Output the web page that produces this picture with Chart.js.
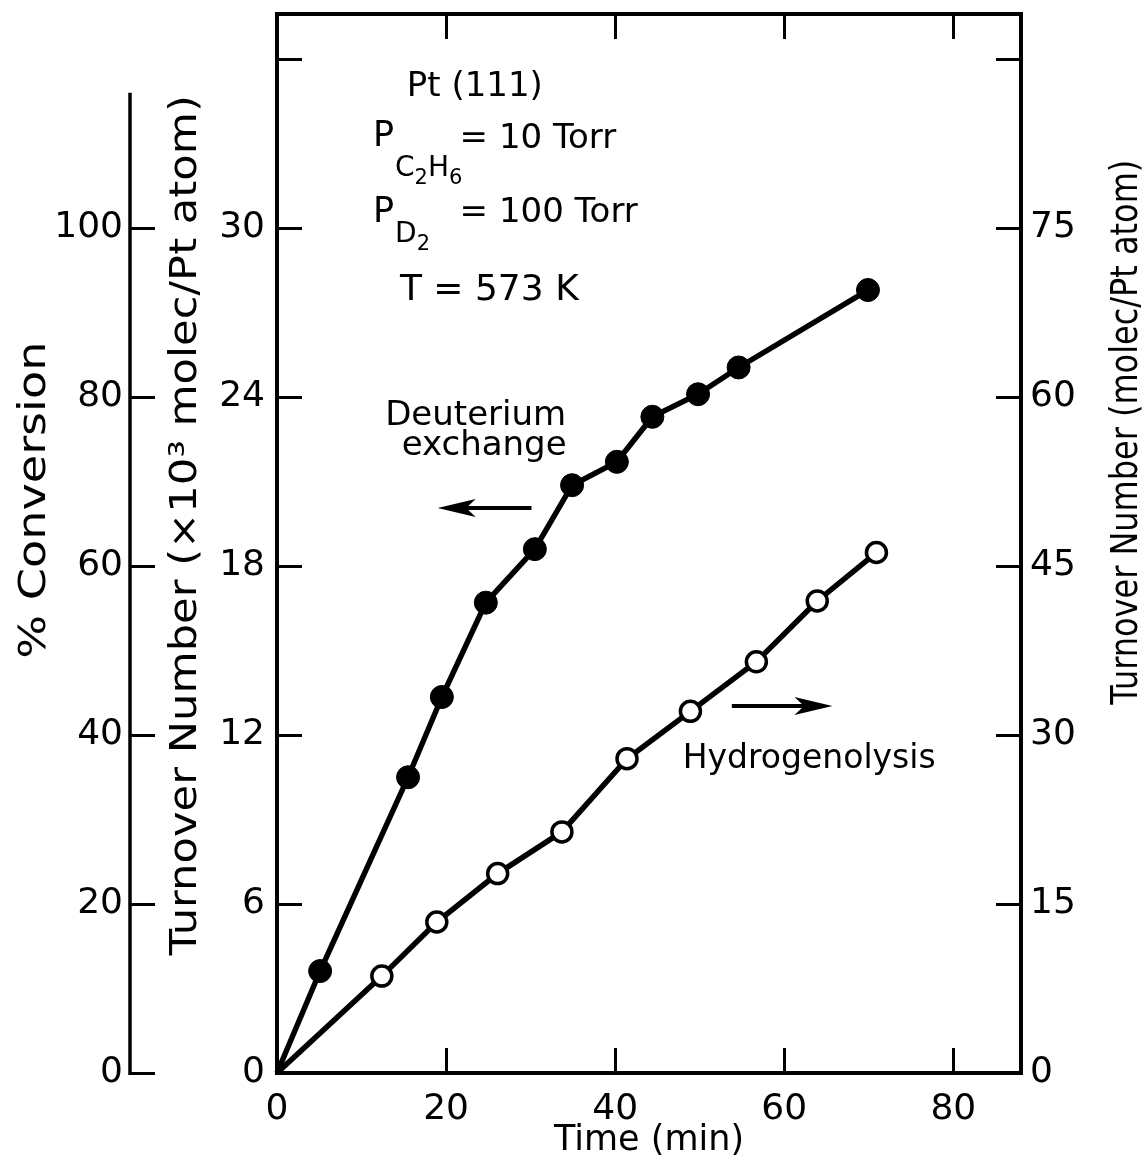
<!DOCTYPE html>
<html>
<head>
<meta charset="utf-8">
<script src="https://cdn.jsdelivr.net/npm/chart.js@4.4.1/dist/chart.umd.min.js"></script>
<style>
    html, body { margin: 0; padding: 0; background: #fff; }
    #wrap { width: 1148px; height: 1168px; position: relative; }
</style>
</head>
<body>
<div id="wrap"><canvas id="chart-turnover"></canvas></div>
<script>
// ======================================================
// Pt(111) - deuterium exchange / hydrogenolysis of ethane
// ======================================================

// filled circles, left axis (x10^3 molec/Pt atom); first point is the origin, no marker
const timeExchange     = [0, 5.1, 15.5, 19.5, 24.7, 30.5, 34.9, 40.2, 44.4, 49.8, 54.6, 69.9];
const turnoverExchange = [0, 3.62, 10.5, 13.35, 16.7, 18.6, 20.87, 21.7, 23.3, 24.1, 25.05, 27.8];

// open circles, right axis (molec/Pt atom)
const timeHydro     = [0, 12.4, 18.9, 26.1, 33.7, 41.4, 48.9, 56.7, 63.9, 70.9];
const turnoverHydro = [0, 8.6, 13.4, 17.7, 21.4, 27.9, 32.1, 36.5, 41.9, 46.2];

// ticks
const timeTicks        = [0, 20, 40, 60, 80];
const turnoverTicks    = [0, 6, 12, 18, 24, 30, 36];
const turnoverLabels   = ['0', '6', '12', '18', '24', '30', ''];
const conversionTicks  = [0, 20, 40, 60, 80, 100];
const rightTicks       = [0, 15, 30, 45, 60, 75, 90];
const rightLabels      = ['0', '15', '30', '45', '60', '75', ''];

const FONT = "'DejaVu Sans', sans-serif";
Chart.defaults.font.family = FONT;
Chart.defaults.color = '#000';

const toPoints = (xs, ys) => xs.map((x, i) => ({ x: x, y: ys[i] }));
const fixTicks = list => scale => { scale.ticks = list.map(v => ({ value: v })); };
const noPad = scale => {
    scale.paddingTop = scale.paddingBottom = 0;
    scale.paddingLeft = scale.paddingRight = 0;
};
const fixWidth = w => scale => { scale.width = w; noPad(scale); };
const fixHeight = h => scale => { scale.height = h; noPad(scale); };

// text + arrows on the plot, positions in (min, left-axis units)
const figureNotes = {
    id: 'figureNotes',
    afterDraw(chart) {
        const { ctx, scales } = chart;
        const X = v => scales.x.getPixelForValue(v);
        const Y = v => scales.y.getPixelForValue(v);

        const text = (str, x, y, size, align) => {
            ctx.font = size + 'px ' + FONT;
            ctx.textAlign = align || 'left';
            ctx.textBaseline = 'alphabetic';
            ctx.fillText(str, x, y);
            return ctx.measureText(str).width;
        };

        // chemical subscript like C2H6: letters at one size, digits smaller and lower
        const formula = (parts, x, y) => {
            parts.forEach(p => {
                const digit = /\d/.test(p);
                x += text(p, x, digit ? y + 8 : y, digit ? 21 : 28);
            });
        };

        // rotated title, stretched to the length it has in the figure
        const vTitle = (str, cx, cy, size, len) => {
            ctx.save();
            ctx.font = size + 'px ' + FONT;
            const w = ctx.measureText(str).width;
            ctx.translate(cx, cy);
            ctx.rotate(-Math.PI / 2);
            ctx.scale(len / w, 1);
            ctx.textAlign = 'center';
            ctx.textBaseline = 'middle';
            ctx.fillText(str, 0, 0);
            ctx.restore();
        };

        const arrow = (x1, x2, y) => {
            const dir = Math.sign(x2 - x1);
            const head = 38, half = 9;
            ctx.beginPath();
            ctx.moveTo(x1, y);
            ctx.lineTo(x2 - dir * head * 0.6, y);
            ctx.lineWidth = 4;
            ctx.stroke();
            ctx.beginPath();
            ctx.moveTo(x2, y);
            ctx.lineTo(x2 - dir * head, y - half);
            ctx.lineTo(x2 - dir * head * 0.75, y);
            ctx.lineTo(x2 - dir * head, y + half);
            ctx.closePath();
            ctx.fill();
        };

        ctx.save();
        ctx.fillStyle = '#000';
        ctx.strokeStyle = '#000';

        text('Pt (111)', X(23.4), Y(34.68), 34, 'center');

        let w = text('P', X(11.35), Y(32.9), 35);
        formula(['C', '2', 'H', '6'], X(11.35) + w + 1, Y(31.85));
        text('= 10 Torr', X(21.6), Y(32.84), 34);

        w = text('P', X(11.35), Y(30.2), 35);
        formula(['D', '2'], X(11.35) + w + 1, Y(29.5));
        text('= 100 Torr', X(21.6), Y(30.2), 34);

        text('T = 573 K', X(14.54), Y(27.44), 36);

        text('Deuterium', X(23.5), Y(23.0), 34, 'center');
        text('exchange', X(24.5), Y(21.94), 34, 'center');
        arrow(X(30.1), X(19.0), Y(20.06));

        arrow(X(53.8), X(65.7), Y(13.03));
        text('Hydrogenolysis', X(47.99), Y(10.83), 33);

        // far-left % conversion axis line (stops short of the frame top)
        const conv = scales.yConv;
        ctx.beginPath();
        ctx.moveTo(conv.right, conv.getPixelForValue(0) + 2);
        ctx.lineTo(conv.right, conv.getPixelForValue(116));
        ctx.lineWidth = 3.5;
        ctx.stroke();

        // axis titles
        vTitle('% Conversion', conv.left + 35, Y(20.34), 37, 317);
        vTitle('Turnover Number (\u00d710\u00b3 molec/Pt atom)', scales.y.left + 56, Y(19.45), 37, 860);
        vTitle('Turnover Number (molec/Pt atom)', scales.yRight.right - 21, Y(22.75), 37, 545);

        ctx.restore();
    }
};

const tickFont = { size: 36 };
const innerGrid = { drawOnChartArea: false, color: '#000', lineWidth: 3, tickLength: -25 };
const frame = { display: true, color: '#000', width: 4 };

new Chart(document.getElementById('chart-turnover'), {
    type: 'line',
    data: {
        datasets: [{
            label: 'Deuterium exchange',
            data: toPoints(timeExchange, turnoverExchange),
            yAxisID: 'y',
            borderColor: '#000',
            borderWidth: 5.5,
            tension: 0,
            pointRadius: c => c.dataIndex === 0 ? 0 : 11.5,
            pointBackgroundColor: '#000',
            pointBorderColor: '#000',
            pointBorderWidth: 1,
            clip: false
        }, {
            label: 'Hydrogenolysis',
            data: toPoints(timeHydro, turnoverHydro),
            yAxisID: 'yRight',
            borderColor: '#000',
            borderWidth: 5.5,
            tension: 0,
            pointRadius: c => c.dataIndex === 0 ? 0 : 10,
            pointBackgroundColor: '#fff',
            pointBorderColor: '#000',
            pointBorderWidth: 3.5,
            clip: false
        }]
    },
    options: {
        responsive: true,
        maintainAspectRatio: false,
        animation: false,
        layout: { padding: 0 },
        plugins: {
            legend: { display: false },
            tooltip: { enabled: false }
        },
        scales: {
            x: {
                type: 'linear',
                position: 'bottom',
                min: 0,
                max: 88,
                afterBuildTicks: fixTicks(timeTicks),
                afterFit: fixHeight(95),
                grid: innerGrid,
                border: frame,
                ticks: { font: tickFont, padding: 40, maxRotation: 0 },
                title: {
                    display: true,
                    text: 'Time (min)',
                    font: { size: 35 },
                    padding: { top: 0, bottom: 6 }
                }
            },
            xTop: {
                type: 'linear',
                position: 'top',
                min: 0,
                max: 88,
                afterBuildTicks: fixTicks(timeTicks),
                afterFit: fixHeight(14),
                grid: innerGrid,
                border: frame,
                ticks: { display: false }
            },
            y: {
                type: 'linear',
                position: 'left',
                weight: 0,
                min: 0,
                max: 37.6,
                afterBuildTicks: fixTicks(turnoverTicks),
                afterFit: fixWidth(147),
                grid: innerGrid,
                border: frame,
                ticks: { font: tickFont, padding: 37, callback: (v, i) => turnoverLabels[i] }
            },
            yConv: {
                type: 'linear',
                position: 'left',
                weight: 1,
                min: 0,
                max: 37.6 / 30 * 100,
                afterBuildTicks: fixTicks(conversionTicks),
                afterFit: fixWidth(130),
                grid: innerGrid,
                border: { display: false },
                ticks: { font: tickFont, padding: 32 }
            },
            yRight: {
                type: 'linear',
                position: 'right',
                min: 0,
                max: 37.6 * 2.5,
                afterBuildTicks: fixTicks(rightTicks),
                afterFit: fixWidth(127),
                grid: innerGrid,
                border: frame,
                ticks: { font: tickFont, padding: 34, callback: (v, i) => rightLabels[i] }
            }
        }
    },
    plugins: [figureNotes]
});
</script>
</body>
</html>
